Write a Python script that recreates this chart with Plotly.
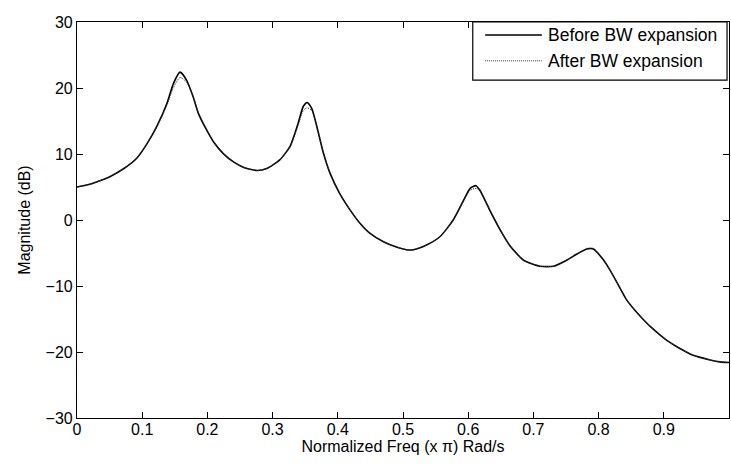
import plotly.graph_objects as go

freq = [0.0, 0.015, 0.031, 0.051, 0.072, 0.092, 0.107, 0.123, 0.138, 0.148, 0.158, 0.168,
        0.178, 0.186, 0.199, 0.209, 0.224, 0.240, 0.255, 0.276, 0.291, 0.311, 0.327, 0.339,
        0.347, 0.353, 0.360, 0.368, 0.378, 0.388, 0.403, 0.419, 0.434, 0.449, 0.470, 0.490,
        0.505, 0.516, 0.536, 0.557, 0.577, 0.593, 0.603, 0.612, 0.618, 0.633, 0.649, 0.664,
        0.685, 0.710, 0.731, 0.751, 0.766, 0.782, 0.792, 0.807, 0.8175, 0.830, 0.843, 0.855,
        0.866, 0.880, 0.894, 0.907, 0.920, 0.945, 0.971, 0.986, 1.0]

before_db = [5.0, 5.3, 5.8, 6.6, 7.8, 9.4, 11.5, 14.3, 17.7, 20.7, 22.4, 21.2,
             18.7, 16.2, 13.6, 11.9, 10.1, 8.8, 8.0, 7.5, 7.8, 9.1, 11.2, 14.6,
             17.2, 17.8, 16.9, 14.1, 10.1, 7.1, 4.0, 1.5, -0.5, -2.0, -3.3, -4.1,
             -4.5, -4.5, -3.8, -2.5, 0.0, 3.0, 4.8, 5.2, 4.5, 1.5, -1.5, -3.9,
             -6.1, -7.0, -7.0, -6.1, -5.2, -4.4, -4.4, -6.0, -7.6, -9.8, -12.1, -13.6,
             -14.8, -16.2, -17.4, -18.4, -19.2, -20.5, -21.2, -21.5, -21.6]

after_db = [5.0, 5.3, 5.8, 6.6, 7.8, 9.4, 11.5, 14.2, 17.4, 20.1, 21.6, 20.9,
            18.8, 16.3, 13.7, 11.9, 10.1, 8.8, 8.0, 7.5, 7.8, 9.1, 11.1, 14.3,
            16.6, 17.0, 16.6, 14.1, 10.2, 7.1, 4.0, 1.5, -0.5, -2.0, -3.3, -4.1,
            -4.5, -4.5, -3.8, -2.5, 0.0, 2.9, 4.5, 4.8, 4.4, 1.6, -1.4, -3.9,
            -6.1, -7.0, -7.0, -6.1, -5.2, -4.3, -4.3, -5.9, -7.6, -9.8, -12.1, -13.6,
            -14.8, -16.2, -17.4, -18.4, -19.2, -20.5, -21.2, -21.5, -21.6]

series_names = ["Before BW expansion", "After BW expansion"]

x_ticks = [0, 0.1, 0.2, 0.3, 0.4, 0.5, 0.6, 0.7, 0.8, 0.9, 1]
x_tick_labels = ["0", "0.1", "0.2", "0.3", "0.4", "0.5", "0.6", "0.7", "0.8", "0.9", "1"]
y_ticks = [-30, -20, -10, 0, 10, 20, 30]

FONT = "Liberation Sans, Arial, sans-serif"
SOLID = dict(color="black", width=1.6)
DOTTED = dict(color="#333333", width=1, dash="1px,1px")

fig = go.Figure()
fig.add_trace(go.Scatter(x=freq, y=before_db, mode="lines", name=series_names[0],
                         showlegend=False,
                         line=dict(**SOLID, shape="spline", smoothing=0.6)))
fig.add_trace(go.Scatter(x=freq, y=after_db, mode="lines", name=series_names[1],
                         showlegend=False,
                         line=dict(**DOTTED, shape="spline", smoothing=0.6)))

axis_common = dict(showline=True, linecolor="black", linewidth=1.2, mirror="ticks",
                   ticks="inside", ticklen=6, tickcolor="black", tickwidth=1,
                   showgrid=False, zeroline=False,
                   tickfont=dict(family=FONT, size=16, color="black"))

fig.update_xaxes(range=[0, 1], tickvals=x_ticks, ticktext=x_tick_labels,
                 ticklabelstandoff=-3,
                 title=dict(text="Normalized Freq (x π) Rad/s",
                            font=dict(family=FONT, size=16, color="black"), standoff=0),
                 **axis_common)
fig.update_yaxes(range=[-30, 30], tickvals=y_ticks,
                 title=dict(text="Magnitude (dB)",
                            font=dict(family=FONT, size=16, color="black"), standoff=10),
                 **axis_common)

# MATLAB-style legend box (paper coordinates of the axes area)
box_x0, box_x1, box_y0, box_y1 = 0.607, 0.997, 0.853, 1.0
row_y = [0.967, 0.902]
sample_x0, sample_x1, text_x = 0.626, 0.713, 0.720

shapes = [dict(type="rect", xref="paper", yref="paper", x0=box_x0, x1=box_x1,
               y0=box_y0, y1=box_y1, line=dict(color="black", width=1.2),
               fillcolor="white", layer="above")]
annotations = []
for name, style, ry in zip(series_names, [SOLID, DOTTED], row_y):
    shapes.append(dict(type="line", xref="paper", yref="paper", x0=sample_x0, x1=sample_x1,
                       y0=ry, y1=ry, line=style, layer="above"))
    annotations.append(dict(text=name, xref="paper", yref="paper", x=text_x, y=ry,
                            xanchor="left", yanchor="middle", showarrow=False,
                            font=dict(family=FONT, size=17.5, color="black")))

fig.update_layout(
    width=731, height=466,
    margin=dict(l=77, r=2, t=22, b=48, pad=0),
    paper_bgcolor="white", plot_bgcolor="white",
    font=dict(family=FONT, size=16, color="black"),
    showlegend=False,
    shapes=shapes,
    annotations=annotations,
)

fig.write_html("out.html")
